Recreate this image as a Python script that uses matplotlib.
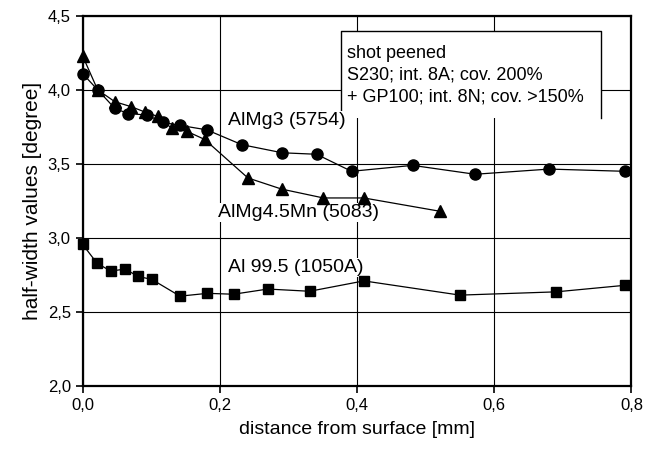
import numpy as np
import matplotlib.pyplot as plt
from matplotlib.patches import Rectangle

plt.rcParams['font.family'] = ['Liberation Sans', 'DejaVu Sans']

# AlMg3 (5754) - circles
x_almg3 = [0.0, 0.022, 0.047, 0.066, 0.094, 0.117, 0.142, 0.181, 0.232, 0.291, 0.341, 0.392, 0.481, 0.572, 0.68, 0.79]
y_almg3 = [4.11, 4.00, 3.875, 3.84, 3.83, 3.78, 3.76, 3.73, 3.63, 3.575, 3.565, 3.45, 3.49, 3.43, 3.465, 3.45]

# AlMg4.5Mn (5083) - triangles
x_almg45 = [0.0, 0.022, 0.047, 0.071, 0.091, 0.11, 0.13, 0.152, 0.178, 0.241, 0.29, 0.351, 0.41, 0.521]
y_almg45 = [4.23, 4.00, 3.92, 3.886, 3.85, 3.82, 3.74, 3.72, 3.665, 3.405, 3.33, 3.27, 3.27, 3.18]

# Al 99.5 (1050A) - squares
x_al = [0.0, 0.021, 0.041, 0.062, 0.081, 0.101, 0.142, 0.182, 0.22, 0.27, 0.331, 0.41, 0.55, 0.69, 0.79]
y_al = [2.957, 2.83, 2.776, 2.79, 2.74, 2.72, 2.607, 2.626, 2.62, 2.655, 2.64, 2.71, 2.614, 2.636, 2.68]

box_lines = ['shot peened', 'S230; int. 8A; cov. 200%', '+ GP100; int. 8N; cov. >150%']

fig = plt.figure(figsize=(6.45, 4.51), dpi=100)
ax = fig.add_axes([0.128, 0.144, 0.851, 0.821])

ax.plot(x_almg3, y_almg3, color='black', lw=0.9, marker='o', ms=8, clip_on=False, zorder=4)
ax.plot(x_almg45, y_almg45, color='black', lw=0.9, marker='^', ms=9, clip_on=False, zorder=4)
ax.plot(x_al, y_al, color='black', lw=0.9, marker='s', ms=7, clip_on=False, zorder=4)

ax.set_xlim(0, 0.8)
ax.set_ylim(2.0, 4.5)
ax.set_xticks([0.0, 0.2, 0.4, 0.6, 0.8])
ax.set_yticks([2.0, 2.5, 3.0, 3.5, 4.0, 4.5])
ax.set_xticklabels(['0,0', '0,2', '0,4', '0,6', '0,8'])
ax.set_yticklabels(['2,0', '2,5', '3,0', '3,5', '4,0', '4,5'])
ax.tick_params(direction='out', length=5, width=1.2, labelsize=12, color='black')
ax.grid(True, color='black', lw=0.8, zorder=1)
ax.set_axisbelow(True)
for s in ax.spines.values():
    s.set_linewidth(1.6)

ax.set_xlabel('distance from surface [mm]', fontsize=14, labelpad=6)
ax.set_ylabel('half-width values [degree]', fontsize=15, labelpad=4)

# series labels
lab_bg = dict(facecolor='white', edgecolor='none', pad=0.5)
ax.text(0.212, 3.795, 'AlMg3 (5754)', fontsize=14, va='center', ha='left', bbox=lab_bg, zorder=3)
ax.text(0.197, 3.17, 'AlMg4.5Mn (5083)', fontsize=14, va='center', ha='left', bbox=lab_bg, zorder=3)
ax.text(0.212, 2.80, 'Al 99.5 (1050A)', fontsize=14, va='center', ha='left', bbox=lab_bg, zorder=3)

# annotation box (open at the bottom)
bx0, bx1, by0, by1 = 0.377, 0.756, 3.81, 4.40
ax.add_patch(Rectangle((bx0, by0), bx1 - bx0, by1 - by0, facecolor='white', edgecolor='none', zorder=2))
ax.plot([bx0, bx0, bx1, bx1], [by0, by1, by1, by0], color='black', lw=1.0, zorder=2)
for i, t in enumerate(box_lines):
    ax.text(0.385, 4.245 - i * 0.148, t, fontsize=13, va='center', ha='left', zorder=3)

fig.savefig('out.png', dpi=100)
